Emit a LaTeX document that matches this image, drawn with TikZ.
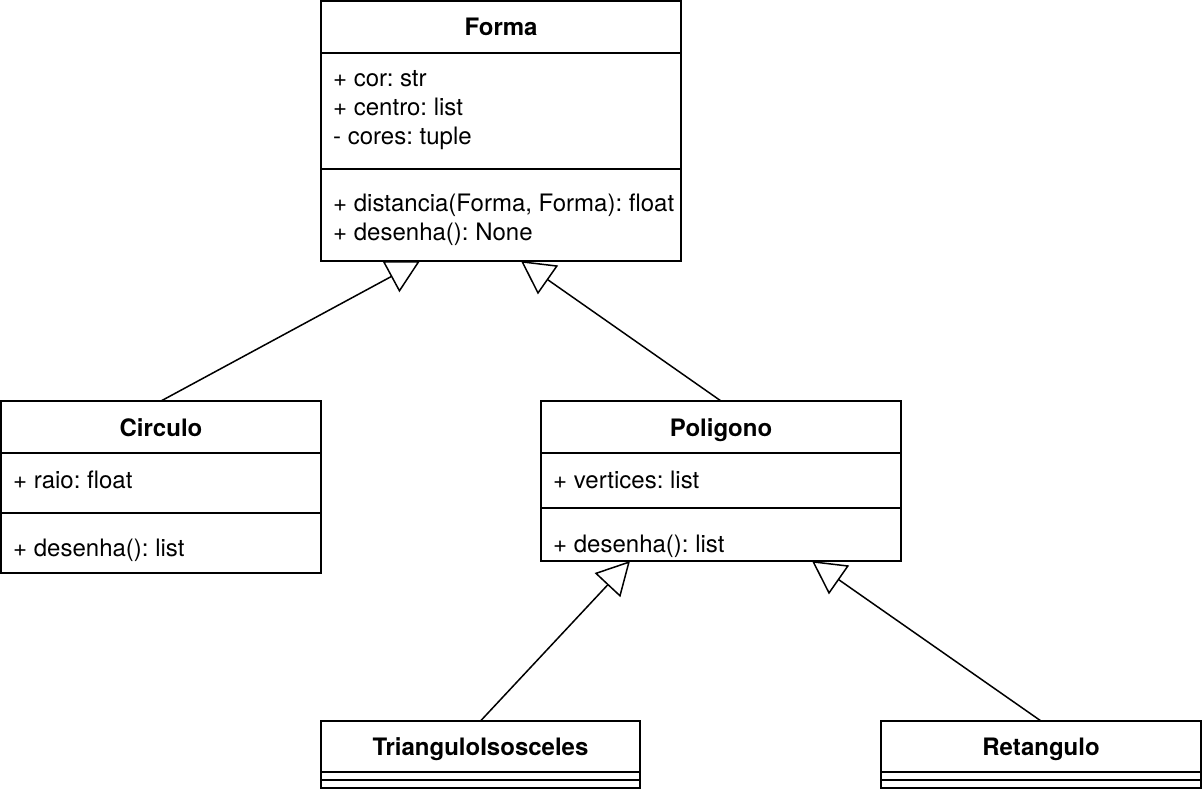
\documentclass[tikz,border=0pt]{standalone}
\usepackage{fontspec}
\setmainfont{TeX Gyre Heros}
\usetikzlibrary{arrows.meta}
\frenchspacing
\begin{document}
\frenchspacing
\begin{tikzpicture}[x=1pt,y=-1pt,
  umlbox/.style={draw, line width=1.5pt, fill=white, rectangle, inner sep=0pt, outer sep=0pt, anchor=north west},
  sepline/.style={line width=1.5pt},
  ttl/.style={font=\fontsize{24}{29}\selectfont\bfseries, anchor=base, inner sep=0pt},
  txt/.style={font=\fontsize{24}{29}\selectfont, anchor=base west, inner sep=0pt},
  inh/.style={line width=1.5pt, -{Triangle[open, length=33pt, width=35pt]}},
]
\useasboundingbox (0,0) rectangle (1202,790);
\fill[white] (0,0) rectangle (1202,790);

% Forma
\node[umlbox, minimum width=360pt, minimum height=260pt] (forma) at (321,1) {};
\draw[sepline] (321,53) -- (681,53);
\draw[sepline] (321,169) -- (681,169);
\node[ttl] (formaT) at (501,35.5) {Forma};
\node[txt] (fa1) at (333,86) {+ cor: str};
\node[txt] (fa2) at (333,115) {+ centro: list};
\node[txt] (fa3) at (333,144) {- cores: tuple};
\node[txt] (fm1) at (333,211) {+ distancia(Forma, Forma): float};
\node[txt] (fm2) at (333,240) {+ desenha(): None};

% Circulo
\node[umlbox, minimum width=320pt, minimum height=172pt] (circulo) at (1,401) {};
\draw[sepline] (1,453) -- (321,453);
\draw[sepline] (1,513) -- (321,513);
\node[ttl] (circuloT) at (161,436.5) {Circulo};
\node[txt] (ca1) at (13,488) {+ raio: float};
\node[txt] (cm1) at (13,556) {+ desenha(): list};

% Poligono
\node[umlbox, minimum width=360pt, minimum height=160pt] (poligono) at (541,401) {};
\draw[sepline] (541,453) -- (901,453);
\draw[sepline] (541,508) -- (901,508);
\node[ttl] (poligonoT) at (721,436.5) {Poligono};
\node[txt] (pa1) at (553,488) {+ vertices: list};
\node[txt] (pm1) at (553,552) {+ desenha(): list};

% TrianguloIsosceles
\node[umlbox, minimum width=319pt, minimum height=67pt] (triangulo) at (321,721) {};
\draw[sepline] (321,772) -- (640,772);
\draw[sepline] (321,780) -- (640,780);
\node[ttl] (trianguloT) at (480.5,755.5) {TrianguloIsosceles};

% Retangulo
\node[umlbox, minimum width=320pt, minimum height=67pt] (retangulo) at (881,721) {};
\draw[sepline] (881,772) -- (1201,772);
\draw[sepline] (881,780) -- (1201,780);
\node[ttl] (retanguloT) at (1041,755.5) {Retangulo};

% targets on parent edges
\coordinate (fA) at (420,261);
\coordinate (fB) at (521,261);
\coordinate (pA) at (630,561);
\coordinate (pB) at (812,561);

\draw[inh] (circulo.north) -- (fA);
\draw[inh] (poligono.north) -- (fB);
\draw[inh] (triangulo.north) -- (pA);
\draw[inh] (retangulo.north) -- (pB);
\end{tikzpicture}
\end{document}
